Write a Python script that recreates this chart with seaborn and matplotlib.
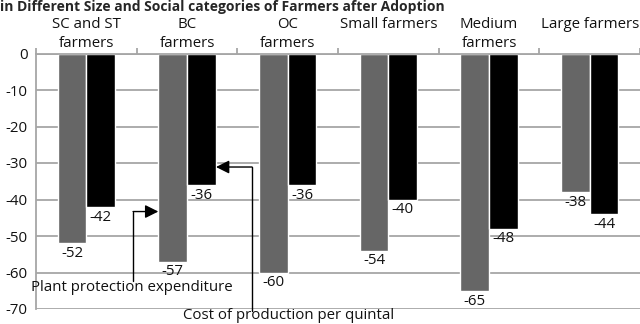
import matplotlib
matplotlib.use("Agg")
import matplotlib.pyplot as plt
import seaborn as sns
import pandas as pd
import numpy as np

categories = ["SC and ST\nfarmers", "BC\nfarmers", "OC\nfarmers",
              "Small farmers", "Medium\nfarmers", "Large farmers"]
plant_protection = [-52, -57, -60, -54, -65, -38]
cost_per_quintal = [-42, -36, -36, -40, -48, -44]
series_names = ["Plant protection expenditure", "Cost of production per quintal"]
y_ticks = [0, -10, -20, -30, -40, -50, -60, -70]

sns.set_theme(style="white")
plt.rcParams["font.family"] = ["Open Sans", "DejaVu Sans"]
plt.rcParams["axes.unicode_minus"] = False

df = pd.DataFrame({
    "category": categories * 2,
    "series": [series_names[0]] * len(categories) + [series_names[1]] * len(categories),
    "value": plant_protection + cost_per_quintal,
})

fig = plt.figure(figsize=(6.4, 3.24), dpi=100)
ax = fig.add_axes([36 / 640, 1 - 309 / 324, 1 - 36 / 640, (309 - 53.5) / 324])

sns.barplot(data=df, x="category", y="value", hue="series", order=categories,
            hue_order=series_names, palette=["#666666", "#000000"],
            width=0.57, gap=0, saturation=1, errorbar=None, legend=False, ax=ax)

fs = 10.8
grid_color = "#a6a6a6"
ax.set_ylim(-70, 0)
ax.set_xlim(-0.5, len(categories) - 0.5)
ax.set_yticks(y_ticks)
ax.set_yticklabels([str(v) for v in y_ticks], fontsize=fs)
ax.yaxis.grid(True, color=grid_color, linewidth=1.3)
ax.set_axisbelow(True)
for side in ["right", "bottom"]:
    ax.spines[side].set_visible(False)
for side in ["left", "top"]:
    ax.spines[side].set_color(grid_color)
    ax.spines[side].set_linewidth(1.3)
ax.tick_params(axis="y", length=3, color=grid_color, pad=3, labelcolor="#111111")

# category labels across the top, hung from a common top line,
# with short boundary ticks between the groups
ax.xaxis.tick_top()
ax.set_xticks(range(len(categories)))
ax.set_xticklabels(categories, fontsize=fs, linespacing=1.4, va="top")
ax.set_xticks(np.arange(-0.5, len(categories), 1.0), minor=True)
ax.tick_params(axis="x", which="major", length=0, pad=26.3, labelcolor="#111111")
ax.tick_params(axis="x", which="minor", length=4, color=grid_color, width=1.3)
ax.set_xlabel("")
ax.set_ylabel("")

# value labels beneath each bar end
for container in ax.containers:
    ax.bar_label(container, fmt="%d", padding=2, fontsize=fs, color="#111111")

# series callouts
arrow = dict(arrowstyle="-|>", color="black", lw=1, mutation_scale=20,
             shrinkA=0, shrinkB=0)
ax.annotate("", xy=(0.715, -43.3), xytext=(0.464, -43.3), arrowprops=arrow,
            annotation_clip=False)
ax.plot([0.464, 0.464], [-43.3, -62.2], color="black", lw=1, clip_on=False)
ax.text(0.454, -64.0, series_names[0], ha="center", va="center", fontsize=fs,
        color="#111111")

ax.annotate("", xy=(1.288, -31.1), xytext=(1.646, -31.1), arrowprops=arrow,
            annotation_clip=False)
ax.plot([1.646, 1.646], [-31.1, -70.5], color="black", lw=1, clip_on=False)
ax.text(0.96, -71.9, series_names[1], ha="left", va="center", fontsize=fs,
        color="#111111", clip_on=False)

fig.text(0.0, 1.0, "in Different Size and Social categories of Farmers after Adoption",
         ha="left", va="top", fontsize=10, fontweight="bold")

fig.savefig("out.png", dpi=100)
